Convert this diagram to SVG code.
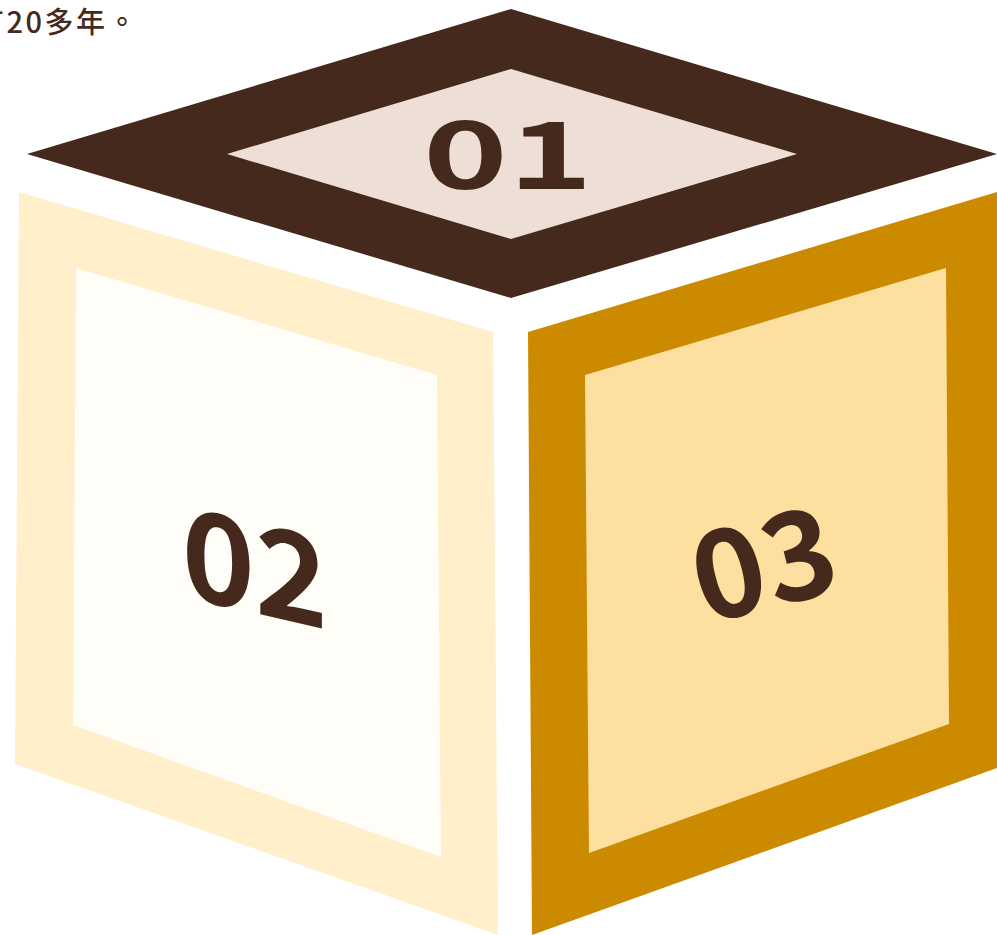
<svg xmlns="http://www.w3.org/2000/svg" width="997" height="935" viewBox="0 0 997 935">
  <style>
    .num { font-family: "Noto Sans CJK TC", "Noto Sans CJK SC", "Open Sans", sans-serif; font-weight: 700; fill: #45291D; text-anchor: middle; }
    .cap { font-family: "Noto Sans CJK TC", "Noto Sans", sans-serif; font-size: 29px; font-weight: 500; fill: #45291D; }
  </style>
  <rect width="997" height="935" fill="#FFFFFF"/>
  <text class="cap" x="-25" y="33" letter-spacing="2.5">有20多年。</text>
  <g id="face-01">
    <polygon points="511,9 997,154 511,298 27,154" fill="#45291D"/>
    <polygon points="511,69 797,154 511,239 227,154" fill="#EDDFD6"/>
    <text class="num" font-size="120" transform="translate(508,189) scale(1.2,0.78)">01</text>
  </g>
  <g id="face-02">
    <polygon points="19,192 493,332 498,935 15,764" fill="#FFEFCB"/>
    <polygon points="76,268 437,375 441,857 73,725" fill="#FFFDF8"/>
    <text class="num" font-size="124" transform="translate(255,569) skewY(13)" y="44">02</text>
  </g>
  <g id="face-03">
    <polygon points="528,332 997,192 997,768 532,935" fill="#CC8A00"/>
    <polygon points="585,375 946,268 949,724 589,853" fill="#FDDF9F"/>
    <text class="num" font-size="122" transform="translate(764,565) rotate(-14)" y="43">03</text>
  </g>
  <g id="connectors"/>
</svg>
